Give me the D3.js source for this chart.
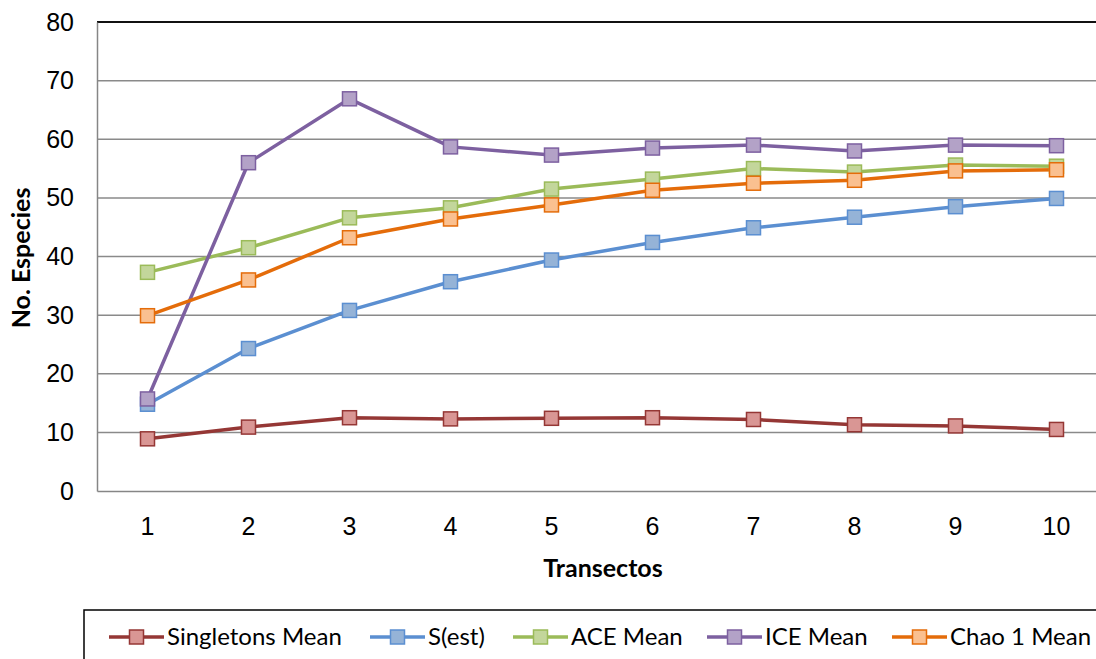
<!DOCTYPE html>
<html><head><meta charset="utf-8">
<script src="https://cdn.jsdelivr.net/npm/d3@7"></script>
<style>
html,body{margin:0;padding:0;background:#fff;}
svg{display:block;font-family:Lato,"Open Sans",sans-serif;}
</style></head>
<body>
<svg id="chart" width="1096" height="659"></svg>
<script>
const categories = [1,2,3,4,5,6,7,8,9,10];
const yTicks = [0,10,20,30,40,50,60,70,80];
const seriesNames = ["Singletons Mean","S(est)","ACE Mean","ICE Mean","Chao 1 Mean"];
const singletons = [8.9,10.9,12.5,12.3,12.4,12.5,12.2,11.3,11.1,10.5];
const sest = [14.8,24.3,30.8,35.7,39.4,42.4,44.9,46.7,48.5,49.9];
const ace = [37.3,41.5,46.6,48.3,51.5,53.2,55.0,54.4,55.6,55.4];
const ice = [15.7,56.0,66.9,58.7,57.3,58.5,59.0,58.0,59.0,58.9];
const chao = [29.9,36.0,43.2,46.4,48.8,51.3,52.5,53.0,54.6,54.8];
const lineColors = ["#953735","#5b8fd1","#9bbb59","#7d60a0","#e46c0a"];
const fillColors = ["#d99694","#95b3d7","#c3d69b","#b3a2c7","#fac090"];

(function(){
const seriesValues = [singletons, sest, ace, ice, chao];
const svg = d3.select("#chart");
const mLeft = 97, mTop = 22, mBottom = 491;
const fs = 25;
const x = d3.scaleBand().domain(categories).range([mLeft, mLeft + 101*categories.length]);
const y = d3.scaleLinear().domain([0,80]).range([mBottom, mTop]);

// gridlines
svg.append("g").selectAll("line").data(yTicks.filter(t=>t>0 && t<80)).join("line")
  .attr("x1", mLeft).attr("x2", 1096)
  .attr("y1", d=>y(d)).attr("y2", d=>y(d))
  .attr("stroke", "#8a8a8a").attr("stroke-width", 1.5);
// top border line
svg.append("line").attr("x1", mLeft).attr("x2", 1096).attr("y1", y(80)).attr("y2", y(80))
  .attr("stroke", "#111").attr("stroke-width", 2);

// y axis
const yAxis = svg.append("g").attr("transform", `translate(${mLeft},0)`)
  .call(d3.axisLeft(y).tickValues(yTicks).tickSize(0).tickPadding(23));
yAxis.select(".domain").attr("stroke", "#868686").attr("stroke-width", 1.5);
yAxis.selectAll("text").attr("font-size", fs).attr("fill", "#000");

// x axis
const xAxis = svg.append("g").attr("transform", `translate(0,${mBottom})`)
  .call(d3.axisBottom(x).tickSize(0).tickPadding(26));
xAxis.select(".domain").attr("stroke", "#868686").attr("stroke-width", 1.5);
xAxis.selectAll("text").attr("font-size", fs).attr("fill", "#000");

// axis titles
svg.append("text").attr("x", 603).attr("y", 568).attr("dy","0.35em").attr("text-anchor","middle")
  .attr("font-size", fs).attr("font-weight","bold").text("Transectos");
svg.append("text").attr("transform","translate(21,258) rotate(-90)").attr("dy","0.35em").attr("text-anchor","middle")
  .attr("font-size", fs).attr("font-weight","bold").text("No. Especies");

// lines and markers
const cx = d => x(d) + x.bandwidth()/2;
const line = d3.line().x((d,i)=>cx(categories[i])).y(d=>y(d));
seriesValues.forEach((vals, si) => {
  svg.append("path").attr("d", line(vals)).attr("fill","none")
    .attr("stroke", lineColors[si]).attr("stroke-width", 3.5).attr("stroke-linejoin","round");
});
seriesValues.forEach((vals, si) => {
  svg.append("g").selectAll("rect").data(vals).join("rect")
    .attr("x", (d,i)=>cx(categories[i]) - 7).attr("y", d=>y(d) - 7)
    .attr("width", 14).attr("height", 14)
    .attr("fill", fillColors[si]).attr("stroke", lineColors[si]).attr("stroke-width", 1.5);
});

// legend
svg.append("rect").attr("x", 84).attr("y", 610).attr("width", 1100).attr("height", 100)
  .attr("fill","none").attr("stroke","#000").attr("stroke-width", 1.5);
const legendStarts = [109, 370, 513, 707, 892];
const ly = 637;
seriesNames.forEach((name, si) => {
  const g = svg.append("g");
  const x0 = legendStarts[si];
  g.append("line").attr("x1", x0).attr("x2", x0+55).attr("y1", ly).attr("y2", ly)
    .attr("stroke", lineColors[si]).attr("stroke-width", 3.5);
  g.append("rect").attr("x", x0+27.5-7).attr("y", ly-7).attr("width",14).attr("height",14)
    .attr("fill", fillColors[si]).attr("stroke", lineColors[si]).attr("stroke-width",1.5);
  g.append("text").attr("x", x0+58).attr("y", ly).attr("dy","0.35em")
    .attr("font-size", 24).text(name);
});
})();
</script>
</body></html>
